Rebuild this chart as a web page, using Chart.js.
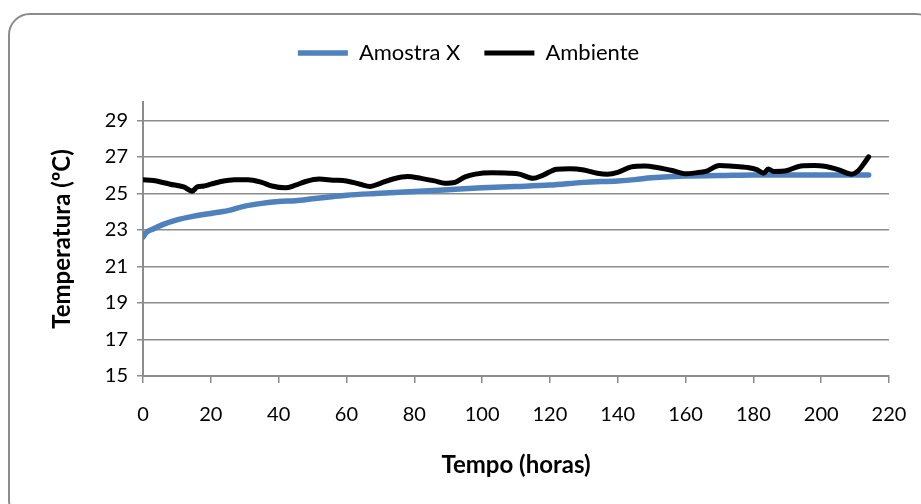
<!DOCTYPE html>
<html>
<head>
<meta charset="utf-8">
<script src="https://cdn.jsdelivr.net/npm/chart.js@4.4.1/dist/chart.umd.min.js"></script>
<style>
  html, body { margin: 0; padding: 0; background: #ffffff; overflow: hidden; }
  #frame { position: absolute; left: 8px; top: 13px; width: 930px; height: 510px;
           border: 2px solid #8c8c8c; border-radius: 22px; box-sizing: border-box; }
  #wrap { position: absolute; left: 0; top: 0; width: 921px; height: 504px; }
</style>
</head>
<body>
<div id="frame"></div>
<div id="wrap"><canvas id="c" width="921" height="504"></canvas></div>
<script>
// ---- Data ----
const seriesNames = ["Amostra X", "Ambiente"];

const hoursAmostra = [0, 1, 3, 6, 10, 15, 20, 25, 30, 35, 40, 45, 50, 55, 60, 70, 80, 90, 100, 110, 120, 130, 140, 145, 150, 160, 170, 180, 190, 200, 210, 214];
const amostraX     = [22.6, 22.85, 23.05, 23.3, 23.55, 23.75, 23.9, 24.05, 24.3, 24.45, 24.55, 24.6, 24.7, 24.8, 24.9, 25.0, 25.1, 25.2, 25.3, 25.37, 25.45, 25.6, 25.68, 25.75, 25.85, 25.95, 25.97, 26.0, 26.0, 26.0, 26.0, 26.0];

const hoursAmbiente = [0, 3, 8, 12, 14.5, 16, 18, 20, 23, 27, 31, 35, 38, 42, 45, 48, 52, 56, 60, 64, 67, 70, 74, 78, 82, 86, 89, 92, 95, 98, 103, 108, 111, 115, 118, 122, 126, 130, 134, 137, 140, 144, 148, 152, 156, 160, 163, 166, 170, 174, 178, 181, 183, 184.4, 186, 190, 194, 198, 201, 205, 209, 211, 212.5, 214];
const ambiente      = [25.75, 25.7, 25.5, 25.35, 25.12, 25.35, 25.4, 25.5, 25.65, 25.75, 25.75, 25.6, 25.4, 25.3, 25.45, 25.65, 25.78, 25.72, 25.68, 25.5, 25.38, 25.55, 25.8, 25.92, 25.82, 25.68, 25.55, 25.6, 25.9, 26.05, 26.12, 26.1, 26.05, 25.82, 26.0, 26.32, 26.35, 26.28, 26.1, 26.05, 26.15, 26.45, 26.5, 26.4, 26.25, 26.07, 26.12, 26.2, 26.52, 26.48, 26.42, 26.3, 26.1, 26.33, 26.2, 26.25, 26.5, 26.52, 26.48, 26.3, 26.05, 26.25, 26.6, 27.0];

const yTickValues = [15, 17, 19, 21, 23, 25, 27, 29];
const xTickValues = [0, 20, 40, 60, 80, 100, 120, 140, 160, 180, 200, 220];
const xAxisTitle = "Tempo (horas)";
const yAxisTitle = "Temperatura (ºC)";

// ---- Chart ----
const FONT = "Lato, 'Open Sans', sans-serif";
const GRID = "#8c8c8c";

const toPoints = (xs, ys) => xs.map((x, i) => ({ x: x, y: ys[i] }));

// extra space below the legend
const legendSpacer = {
  id: "legendSpacer",
  beforeInit(chart) {
    const lg = chart.legend;
    if (!lg) return;
    const origFit = lg.fit;
    lg.fit = function () { origFit.call(this); this.height += 28; };
  }
};

new Chart(document.getElementById("c"), {
  type: "line",
  plugins: [legendSpacer],
  data: {
    datasets: [
      {
        label: seriesNames[0],
        data: toPoints(hoursAmostra, amostraX),
        borderColor: "#4f81bd",
        backgroundColor: "#4f81bd",
        borderWidth: 5.5,
        pointRadius: 0,
        cubicInterpolationMode: "monotone",
        borderCapStyle: "round",
        order: 1
      },
      {
        label: seriesNames[1],
        data: toPoints(hoursAmbiente, ambiente),
        borderColor: "#000000",
        backgroundColor: "#000000",
        borderWidth: 5,
        pointRadius: 0,
        cubicInterpolationMode: "monotone",
        borderCapStyle: "round",
        order: 0
      }
    ]
  },
  options: {
    responsive: false,
    animation: false,
    devicePixelRatio: 1,
    layout: { padding: { left: 48, right: 32, top: 18, bottom: 20 } },
    plugins: {
      tooltip: { enabled: false },
      legend: {
        position: "top",
        align: "center",
        labels: {
          usePointStyle: true,
          pointStyle: "line",
          pointStyleWidth: 50,
          boxHeight: 4,
          padding: 24,
          color: "#000",
          font: { family: FONT, size: 22 },
          sort: (a, b) => a.datasetIndex - b.datasetIndex
        }
      }
    },
    scales: {
      x: {
        type: "linear",
        min: 0,
        max: 220,
        afterBuildTicks: (s) => { s.ticks = xTickValues.map(v => ({ value: v })); },
        afterFit: (s) => { s.height = 108; s.paddingLeft = 0; s.paddingRight = 0; },
        border: { display: true, color: GRID, width: 2 },
        grid: { drawOnChartArea: false, drawTicks: true, tickLength: 7, color: GRID, lineWidth: 1.5 },
        ticks: { color: "#000", font: { family: FONT, size: 20 }, padding: 20, maxRotation: 0 },
        title: { display: true, text: xAxisTitle, color: "#000", font: { family: FONT, size: 24, weight: "bold" }, padding: { top: 0, bottom: 4 } }
      },
      y: {
        type: "linear",
        min: 15,
        max: 30,
        afterBuildTicks: (s) => { s.ticks = yTickValues.map(v => ({ value: v })); },
        afterFit: (s) => { s.width = 95; },
        border: { display: true, color: GRID, width: 2 },
        grid: { drawOnChartArea: true, drawTicks: true, tickLength: 6, color: GRID, lineWidth: 1.5 },
        ticks: { color: "#000", font: { family: FONT, size: 20 }, padding: 9 },
        title: { display: true, text: yAxisTitle, color: "#000", font: { family: FONT, size: 24, weight: "bold" }, padding: { top: 0, bottom: 0 } }
      }
    }
  }
});
</script>
</body>
</html>
